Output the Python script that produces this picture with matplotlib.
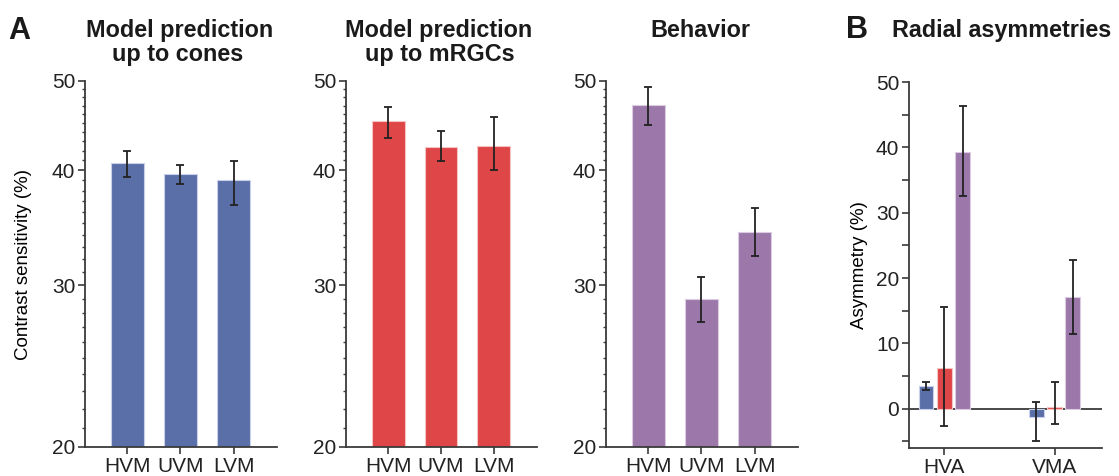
import numpy as np
import matplotlib
matplotlib.use("Agg")
import matplotlib.pyplot as plt
from matplotlib.ticker import FixedLocator, NullFormatter

plt.rcParams['font.family'] = ['Liberation Sans', 'DejaVu Sans']

# meridians and contrast sensitivity (%) with error bar ends
meridians = ['HVM', 'UVM', 'LVM']

cones_mean = [40.7, 39.6, 39.0]
cones_lo = [39.3, 38.6, 36.7]
cones_hi = [42.0, 40.5, 40.9]

mrgc_mean = [45.2, 42.4, 42.5]
mrgc_lo = [43.4, 40.9, 40.0]
mrgc_hi = [46.9, 44.1, 45.7]

behav_mean = [47.1, 29.0, 34.3]
behav_lo = [44.8, 27.35, 32.3]
behav_hi = [49.3, 30.6, 36.4]

# radial asymmetries (%) for cones / mRGCs / behavior
asym_labels = ['HVA', 'VMA']
asym_cones = [3.5, -1.3]
asym_cones_lo = [2.8, -5.0]
asym_cones_hi = [4.1, 1.1]
asym_mrgc = [6.2, 0.3]
asym_mrgc_lo = [-2.7, -2.3]
asym_mrgc_hi = [15.5, 4.1]
asym_behav = [39.3, 17.1]
asym_behav_lo = [32.5, 11.4]
asym_behav_hi = [46.3, 22.7]

blue = '#5a6ea8'
red = '#df4648'
purple = '#9b78a9'
edge_blue = '#c9d0ea'
edge_red = '#f4c4c4'
edge_purple = '#dccbe3'
axcol = '#3a3a3a'

W, H = 1119, 476
fig = plt.figure(figsize=(W / 100, H / 100), dpi=100)


def px_axes(left, right, top, bottom):
    return fig.add_axes([left / W, 1 - bottom / H, (right - left) / W, (bottom - top) / H])


def style(ax):
    for s in ['top', 'right']:
        ax.spines[s].set_visible(False)
    for s in ['left', 'bottom']:
        ax.spines[s].set_color(axcol)
        ax.spines[s].set_linewidth(1.3)
    ax.tick_params(which='major', direction='out', length=5, width=1.2, color=axcol,
                   labelsize=15, labelcolor='#222222', pad=2)
    ax.tick_params(which='minor', direction='out', length=2.5, width=1.0, color=axcol)


def sens_panel(ax, mean, lo, hi, color, edge):
    x = np.arange(len(meridians))
    mean = np.array(mean)
    yerr = [mean - np.array(lo), np.array(hi) - mean]
    ax.bar(x, mean, width=0.62, color=color, edgecolor=edge, linewidth=0.8, zorder=2)
    ax.errorbar(x, mean, yerr=yerr, fmt='none', ecolor='#222222', elinewidth=1.3,
                capsize=3, capthick=1.3, zorder=3)
    ax.set_yscale('log')
    ax.set_ylim(20, 50)
    ax.set_xlim(-0.8, 2.82)
    ax.yaxis.set_major_locator(FixedLocator([20, 30, 40, 50]))
    ax.set_yticklabels(['20', '30', '40', '50'])
    ax.yaxis.set_minor_locator(FixedLocator([v for v in range(21, 50) if v % 10]))
    ax.yaxis.set_minor_formatter(NullFormatter())
    ax.set_xticks(x)
    ax.set_xticklabels(meridians)
    style(ax)


ax1 = px_axes(85, 277, 81, 447)
sens_panel(ax1, cones_mean, cones_lo, cones_hi, blue, edge_blue)
ax1.set_ylabel('Contrast sensitivity (%)', fontsize=13.5, labelpad=14)

ax2 = px_axes(346, 537, 81, 447)
sens_panel(ax2, mrgc_mean, mrgc_lo, mrgc_hi, red, edge_red)

ax3 = px_axes(606, 798, 81, 447)
sens_panel(ax3, behav_mean, behav_lo, behav_hi, purple, edge_purple)

# radial asymmetry panel
ax4 = px_axes(909, 1102, 82, 448)
xa = np.arange(len(asym_labels))
groups = [
    (asym_cones, asym_cones_lo, asym_cones_hi, blue, edge_blue),
    (asym_mrgc, asym_mrgc_lo, asym_mrgc_hi, red, edge_red),
    (asym_behav, asym_behav_lo, asym_behav_hi, purple, edge_purple),
]
offsets = [-0.166, 0.0, 0.166]
for (m, lo, hi, c, e), off in zip(groups, offsets):
    m = np.array(m)
    yerr = [m - np.array(lo), np.array(hi) - m]
    ax4.bar(xa + off, m, width=0.135, color=c, edgecolor=e, linewidth=0.8, zorder=2)
    ax4.errorbar(xa + off, m, yerr=yerr, fmt='none', ecolor='#222222', elinewidth=1.3,
                 capsize=3, capthick=1.3, zorder=3)
ax4.axhline(0, color=axcol, linewidth=1.3, zorder=1)
ax4.set_ylim(-6, 50)
ax4.set_xlim(-0.32, 1.43)
ax4.set_yticks([0, 10, 20, 30, 40, 50])
ax4.set_yticks([-5, 5, 15, 25, 35, 45], minor=True)
ax4.set_xticks(xa)
ax4.set_xticklabels(asym_labels)
style(ax4)
ax4.tick_params(which='minor', length=5, width=1.2)
ax4.set_ylabel('Asymmetry (%)', fontsize=13.5, labelpad=6)

# titles and panel letters
title_kw = dict(ha='center', va='baseline', fontsize=16.8, fontweight='bold', color='#1a1a1a')
fig.text(180 / W, 1 - 37 / H, 'Model prediction', **title_kw)
fig.text(178 / W, 1 - 61 / H, 'up to cones', **title_kw)
fig.text(439 / W, 1 - 37 / H, 'Model prediction', **title_kw)
fig.text(440 / W, 1 - 61 / H, 'up to mRGCs', **title_kw)
fig.text(700 / W, 1 - 37 / H, 'Behavior', **title_kw)
fig.text(1002 / W, 1 - 37 / H, 'Radial asymmetries', **title_kw)

letter_kw = dict(ha='left', va='baseline', fontsize=22, fontweight='bold', color='#1a1a1a')
fig.text(8 / W, 1 - 39 / H, 'A', **letter_kw)
fig.text(846 / W, 1 - 38 / H, 'B', **letter_kw)

fig.savefig('out.png', dpi=100)
